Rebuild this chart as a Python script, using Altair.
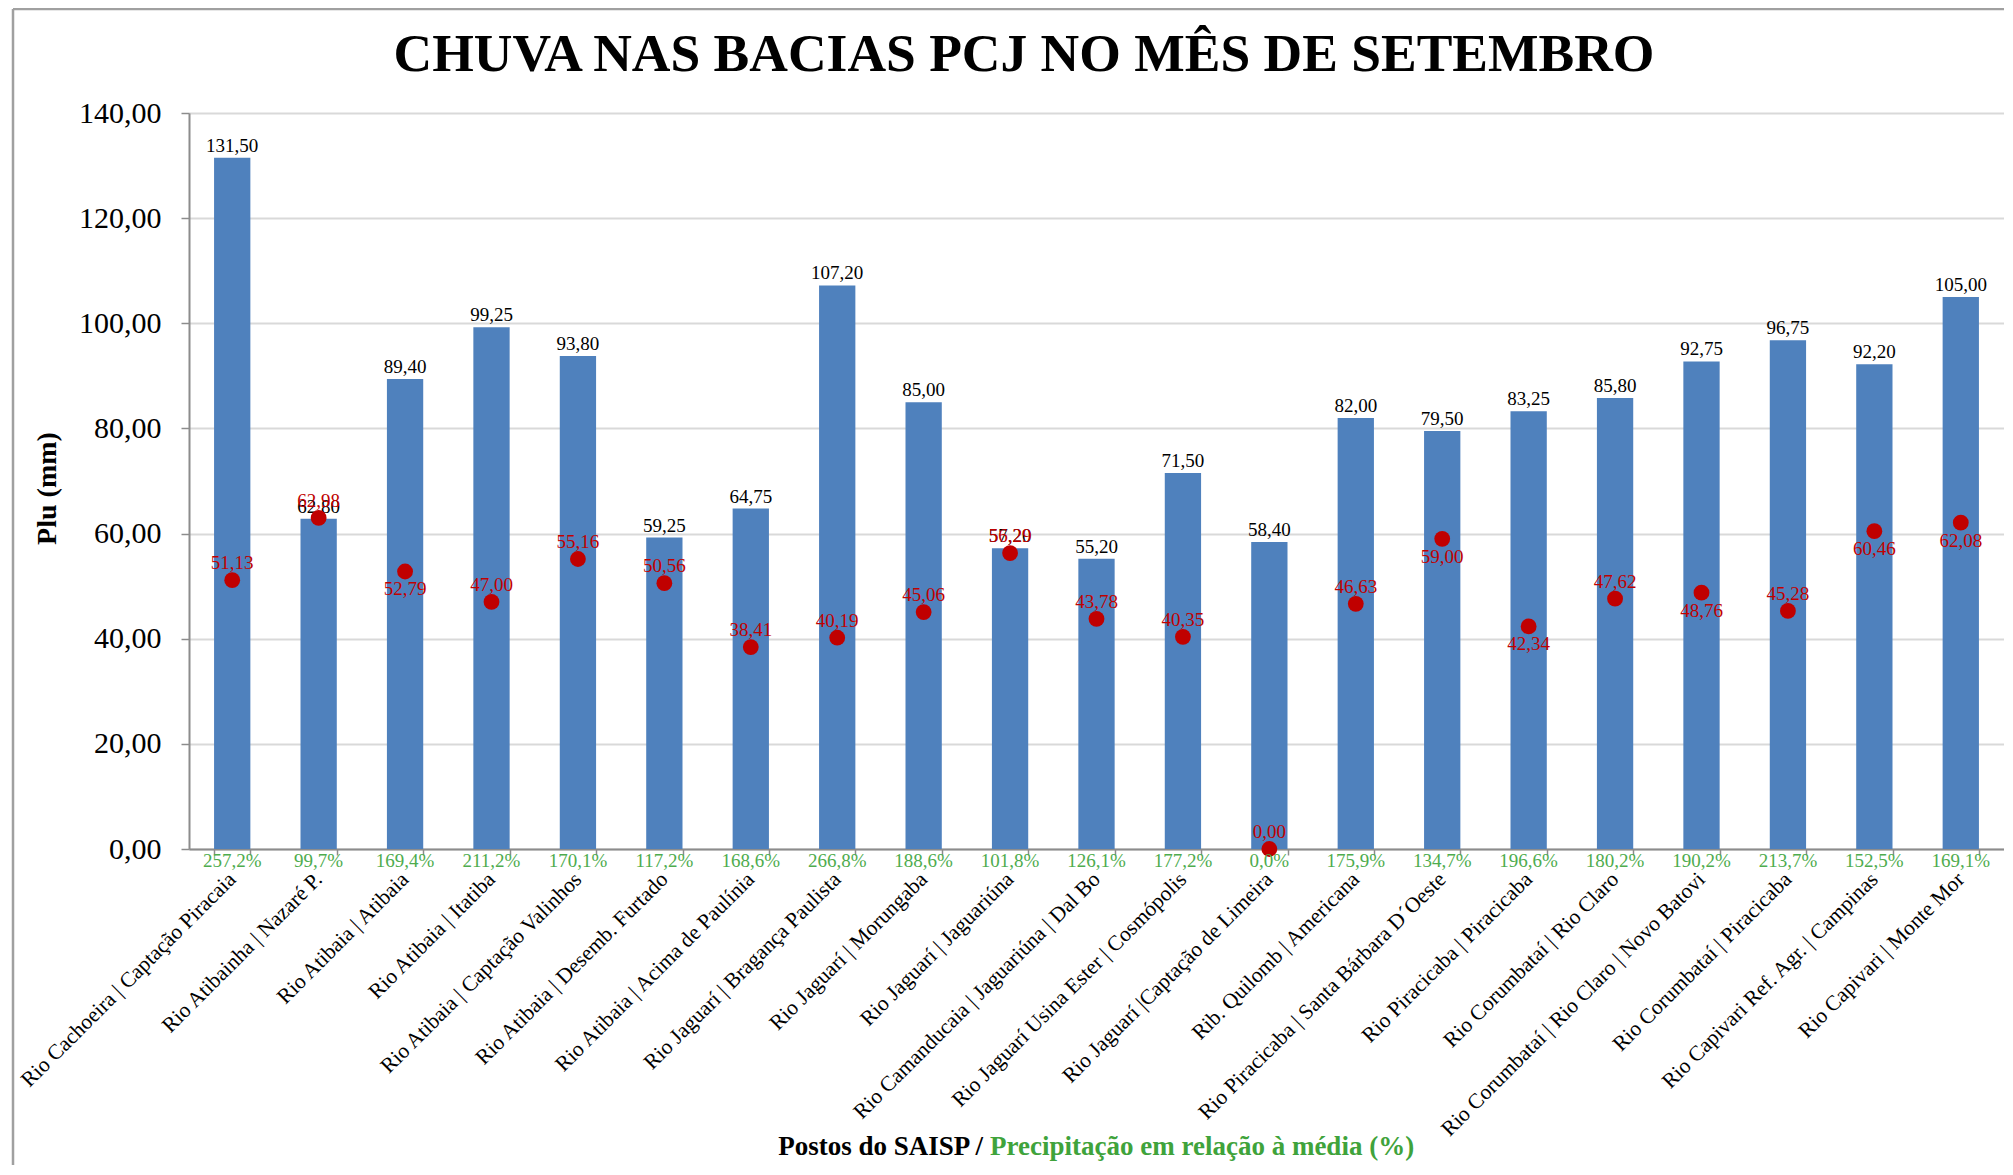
import altair as alt
import pandas as pd

postos = [
    "Rio Cachoeira | Captação Piracaia",
    "Rio Atibainha | Nazaré P.",
    "Rio Atibaia | Atibaia",
    "Rio Atibaia | Itatiba",
    "Rio Atibaia | Captação Valinhos",
    "Rio Atibaia | Desemb. Furtado",
    "Rio Atibaia | Acima de Paulínia",
    "Rio Jaguarí | Bragança Paulista",
    "Rio Jaguarí | Morungaba",
    "Rio Jaguarí | Jaguariúna",
    "Rio Camanducaia | Jaguariúna | Dal Bo",
    "Rio Jaguarí Usina Ester | Cosmópolis",
    "Rio Jaguarí |Captação de Limeira",
    "Rib. Quilomb | Americana",
    "Rio Piracicaba | Santa Bárbara D´Oeste",
    "Rio Piracicaba | Piracicaba",
    "Rio Corumbataí | Rio Claro",
    "Rio Corumbataí | Rio Claro | Novo Batovi",
    "Rio Corumbataí | Piracicaba",
    "Rio Capivari Ref. Agr. | Campinas",
    "Rio Capivari | Monte Mor",
]
chuva = [131.50, 62.80, 89.40, 99.25, 93.80, 59.25, 64.75, 107.20, 85.00, 57.20,
         55.20, 71.50, 58.40, 82.00, 79.50, 83.25, 85.80, 92.75, 96.75, 92.20, 105.00]
media = [51.13, 62.98, 52.79, 47.00, 55.16, 50.56, 38.41, 40.19, 45.06, 56.29,
         43.78, 40.35, 0.00, 46.63, 59.00, 42.34, 47.62, 48.76, 45.28, 60.46, 62.08]
pct = [257.2, 99.7, 169.4, 211.2, 170.1, 117.2, 168.6, 266.8, 188.6, 101.8,
       126.1, 177.2, 0.0, 175.9, 134.7, 196.6, 180.2, 190.2, 213.7, 152.5, 169.1]
# style: which red labels sit below their dot
media_label_below = [False, False, True, False, False, False, False, False, False, False,
                     False, False, False, False, True, True, False, True, False, True, True]

titulo = "CHUVA NAS BACIAS PCJ NO MÊS DE SETEMBRO"
eixo_x_a = "Postos do SAISP /"
eixo_x_b = "Precipitação  em relação à média (%)"
eixo_y = "Plu (mm)"
y_ticks = [0, 20, 40, 60, 80, 100, 120, 140]

df = pd.DataFrame({
    "posto": postos, "chuva": chuva, "media": media, "pct": pct,
    "below": media_label_below,
})

FONT = "Liberation Serif"
BLUE = "#4F81BD"
RED = "#C00000"
GREEN = "#4EAC4E"
GREEN_T = "#3FA33B"
GRAY = "#8C8C8C"

W, H = 1815, 736

x_enc = alt.X(
    "posto:N", sort=postos,
    scale=alt.Scale(paddingInner=0.58, paddingOuter=0.29),
    axis=alt.Axis(
        title=None, labelFont=FONT, labelFontSize=21.5, labelColor="black",
        labelAngle=315, labelAlign="right", labelBaseline="middle",
        labelPadding=21, labelLimit=0, tickSize=6, tickBand="extent",
        domainColor=GRAY, domainWidth=2, tickColor=GRAY, tickWidth=1.5, grid=False,
    ),
)
y_axis = alt.Axis(
    values=y_ticks, labelExpr="replace(format(datum.value, '.2f'), '.', ',')",
    labelFont=FONT, labelFontSize=30, labelColor="black", labelPadding=20,
    tickSize=8, tickColor=GRAY, tickWidth=1.5, domainColor=GRAY, domainWidth=2,
    gridColor="#D9D9D9", gridWidth=2,
    title=eixo_y, titleFont=FONT, titleFontSize=28, titleFontWeight="bold",
    titleColor="black", titleX=-142, titleY=375, titleAngle=270,
    titleAlign="center", titleBaseline="middle",
)
yscale = alt.Scale(domain=[0, 140])

base = alt.Chart(df).transform_calculate(
    chuva_txt="replace(format(datum.chuva, '.2f'), '.', ',')",
    media_txt="replace(format(datum.media, '.2f'), '.', ',')",
    pct_txt="replace(format(datum.pct, '.1f'), '.', ',') + '%'",
)

bars = base.mark_bar(color=BLUE).encode(
    x=x_enc, y=alt.Y("chuva:Q", scale=yscale, axis=y_axis)
)
bar_lbl = base.mark_text(baseline="bottom", dy=-2, font=FONT, fontSize=19, color="black").encode(
    x=x_enc, y=alt.Y("chuva:Q", scale=yscale, axis=y_axis), text="chuva_txt:N"
)
pts = base.mark_point(filled=True, size=250, color=RED, opacity=1).encode(
    x=x_enc, y=alt.Y("media:Q", scale=yscale, axis=y_axis)
)
med_above = base.transform_filter("!datum.below").mark_text(
    baseline="bottom", dy=-7, font=FONT, fontSize=19, color=RED
).encode(x=x_enc, y=alt.Y("media:Q", scale=yscale, axis=y_axis), text="media_txt:N")
med_below = base.transform_filter("datum.below").mark_text(
    baseline="top", dy=9, font=FONT, fontSize=19, color=RED
).encode(x=x_enc, y=alt.Y("media:Q", scale=yscale, axis=y_axis), text="media_txt:N")
pct_lbl = base.mark_text(baseline="top", dy=3, font=FONT, fontSize=19, color=GREEN).encode(
    x=x_enc, y=alt.datum(0, scale=yscale), text="pct_txt:N"
)

one = pd.DataFrame({"k": [0]})
title_t = alt.Chart(one).mark_text(
    font=FONT, fontSize=53.5, fontWeight="bold", color="black", align="center", baseline="alphabetic"
).encode(x=alt.value(835), y=alt.value(-42), text=alt.value(titulo))
xt_a = alt.Chart(one).mark_text(
    font=FONT, fontSize=27, fontWeight="bold", color="black", align="right", baseline="alphabetic"
).encode(x=alt.value(794), y=alt.value(1042), text=alt.value(eixo_x_a))
xt_b = alt.Chart(one).mark_text(
    font=FONT, fontSize=27, fontWeight="bold", color=GREEN_T, align="left", baseline="alphabetic"
).encode(x=alt.value(801), y=alt.value(1042), text=alt.value(eixo_x_b))
border_l = alt.Chart(one).mark_rule(color="#A0A0A0", strokeWidth=2.5).encode(
    x=alt.value(-176), y=alt.value(-104), y2=alt.value(1200)
)
border_t = alt.Chart(one).mark_rule(color="#A0A0A0", strokeWidth=2.5).encode(
    x=alt.value(-176), x2=alt.value(2000), y=alt.value(-104)
)

chart = alt.layer(
    bars, bar_lbl, pts, med_above, med_below, pct_lbl,
    title_t, xt_a, xt_b, border_l, border_t,
).properties(
    width=W, height=H,
    autosize=alt.AutoSizeParams(type="none"),
    padding={"left": 181, "top": 105, "right": 0, "bottom": 316},
).configure_view(stroke=None).configure(background="white")

chart.save("out.html", embed_options={"renderer": "svg", "actions": False})
